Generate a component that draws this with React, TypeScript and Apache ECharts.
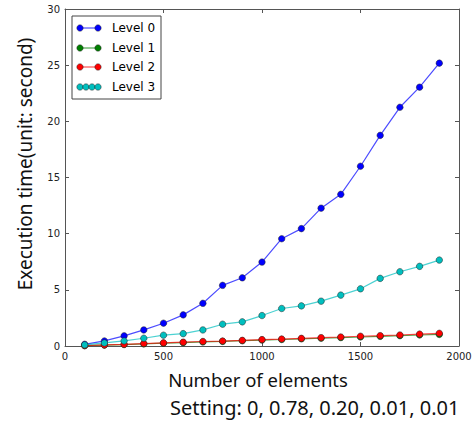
import React, { useEffect, useRef } from "react";
import * as echarts from "echarts";

const elements = [100, 200, 300, 400, 500, 600, 700, 800, 900, 1000, 1100, 1200, 1300, 1400, 1500, 1600, 1700, 1800, 1900];
const level0 = [0.15, 0.45, 0.9, 1.43, 2.03, 2.77, 3.8, 5.4, 6.07, 7.47, 9.55, 10.45, 12.27, 13.5, 16.0, 18.75, 21.25, 23.04, 25.18];
const level1 = [0.03, 0.08, 0.13, 0.19, 0.25, 0.3, 0.36, 0.41, 0.47, 0.53, 0.58, 0.64, 0.69, 0.75, 0.8, 0.86, 0.92, 0.98, 1.03];
const level2 = [0.04, 0.1, 0.15, 0.22, 0.28, 0.34, 0.4, 0.44, 0.5, 0.57, 0.62, 0.68, 0.74, 0.8, 0.87, 0.92, 0.98, 1.06, 1.13];
const level3 = [0.1, 0.27, 0.45, 0.69, 0.96, 1.1, 1.43, 1.94, 2.15, 2.71, 3.34, 3.57, 3.99, 4.53, 5.09, 6.02, 6.61, 7.09, 7.65];
const seriesNames = ["Level 0", "Level 1", "Level 2", "Level 3"];
const seriesColors = ["#0000ff", "#008000", "#ff0000", "#00bfbf"];
const xTitle = "Number of elements";
const yTitle = "Execution time(unit: second)";
const settingText = "Setting: 0, 0.78, 0.20, 0.01, 0.01";

const TICK_FONT = "DejaVu Sans";
const TITLE_FONT = "Noto Sans";

export default function App() {
  const ref = useRef<HTMLDivElement>(null);
  useEffect(() => {
    if (!ref.current) return;
    const chart = echarts.init(ref.current, undefined, { renderer: "svg" });
    const allData = [level0, level1, level2, level3];
    const series = allData.map((vals, i) => ({
      name: seriesNames[i],
      type: "line",
      data: elements.map((x, j) => [x, vals[j]]),
      symbol: "circle",
      symbolSize: 6.5,
      itemStyle: { color: seriesColors[i], borderColor: "#222", borderWidth: 0.5 },
      lineStyle: { color: seriesColors[i], width: 1.2, opacity: 0.7 },
      z: 2 + i,
    }));

    const axisLine = { show: true, onZero: false, lineStyle: { color: "#555", width: 1 } };
    const axisTickIn = { show: true, inside: true, length: 4, lineStyle: { color: "#555" } };
    const label = { fontFamily: TICK_FONT, fontSize: 10, color: "#222", formatter: (v: number) => String(v) };

    const legendX = 72, legendY = 16, legendW = 89, legendH = 83;
    const rowY = [28, 48, 67, 87];
    const legendChildren: any[] = [
      { type: "rect", shape: { x: legendX, y: legendY, width: legendW, height: legendH }, style: { fill: "#fff", stroke: "#444", lineWidth: 1 } },
    ];
    rowY.forEach((y, i) => {
      if (i < 3) {
        legendChildren.push({ type: "line", shape: { x1: 80, y1: y, x2: 98, y2: y }, style: { stroke: seriesColors[i], lineWidth: 1.2, opacity: 0.7 } });
        [80, 98].forEach((cx) => legendChildren.push({ type: "circle", shape: { cx, cy: y, r: 3.2 }, style: { fill: seriesColors[i], stroke: "#222", lineWidth: 0.5 } }));
      } else {
        [80, 86, 92, 98].forEach((cx) => legendChildren.push({ type: "circle", shape: { cx, cy: y, r: 3.2 }, style: { fill: seriesColors[i], stroke: "#222", lineWidth: 0.5 } }));
      }
      legendChildren.push({ type: "text", x: 112, y, style: { text: seriesNames[i], fontFamily: TICK_FONT, fontSize: 12, fill: "#000", textVerticalAlign: "middle", textAlign: "left" } });
    });

    chart.setOption({
      animation: false,
      backgroundColor: "#fff",
      grid: { left: 65, right: 16, top: 9, bottom: 82, containLabel: false },
      xAxis: [
        {
          type: "value", min: 0, max: 2000, interval: 500, position: "bottom",
          axisLine, axisTick: axisTickIn, splitLine: { show: false },
          axisLabel: { ...label, margin: 5 },
        },
        {
          type: "value", min: 0, max: 2000, interval: 500, position: "top",
          axisLine, axisTick: axisTickIn, splitLine: { show: false }, axisLabel: { show: false },
        },
      ],
      yAxis: [
        {
          type: "value", min: 0, max: 30, interval: 5, position: "left",
          axisLine, axisTick: axisTickIn, splitLine: { show: false },
          axisLabel: { ...label, margin: 5 },
        },
        {
          type: "value", min: 0, max: 30, interval: 5, position: "right",
          axisLine, axisTick: axisTickIn, splitLine: { show: false }, axisLabel: { show: false },
        },
      ],
      graphic: [
        { type: "group", children: legendChildren, z: 100 },
        {
          type: "text", x: 25, y: 164, rotation: Math.PI / 2,
          style: { text: yTitle, fontFamily: TITLE_FONT, fontSize: 19, fill: "#111", textAlign: "center", textVerticalAlign: "middle" },
        },
        {
          type: "text", x: 258, y: 379,
          style: { text: xTitle, fontFamily: TITLE_FONT, fontSize: 18.5, fill: "#111", textAlign: "center", textVerticalAlign: "middle" },
        },
        {
          type: "text", x: 170, y: 407,
          style: { text: settingText, fontFamily: TITLE_FONT, fontSize: 20, fill: "#111", textAlign: "left", textVerticalAlign: "middle" },
        },
      ],
      series,
    });
    return () => chart.dispose();
  }, []);
  return <div ref={ref} style={{ position: "fixed", left: 0, top: 0, width: 475, height: 428 }} />;
}
